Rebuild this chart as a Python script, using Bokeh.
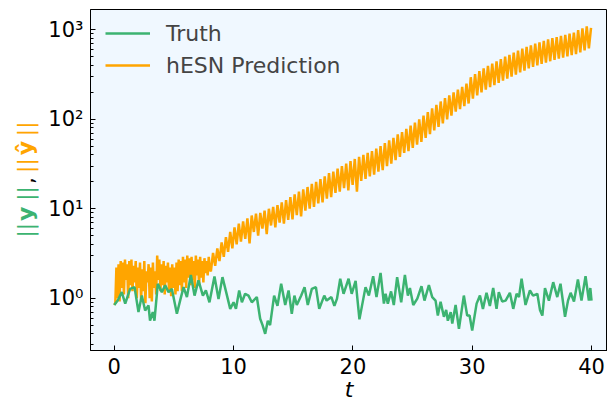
import numpy as np
from bokeh.plotting import figure
from bokeh.layouts import row
from bokeh.models import (Range1d, Label, Legend, LegendItem, FixedTicker,
                          CustomJSTickFormatter)
from bokeh.embed import file_html
from bokeh.resources import INLINE

# ---------------- data ----------------
# Truth: times of turning points and the norm there
t_truth = [0.0, 0.30, 0.63, 0.92, 1.33, 1.7, 2.03, 2.31, 2.59, 2.87, 3.0, 3.23, 3.37,
           3.65, 3.99, 4.27, 4.55, 4.83, 5.25, 5.52, 5.81, 6.09, 6.42, 6.73, 7.06,
           7.43, 7.68, 7.98, 8.40, 8.74, 9.07, 9.38, 9.72, 10.0, 10.2, 10.47, 10.7,
           10.97, 11.25, 11.53, 11.95, 12.23, 12.43, 12.65, 12.87, 13.06, 13.4,
           13.68, 13.99, 14.33, 14.61, 14.88, 15.1, 15.3, 15.67, 15.95, 16.22,
           16.56, 16.9, 17.18, 17.6, 17.8, 18.2, 18.45, 18.67, 18.94, 19.22,
           19.64, 19.9, 20.23, 20.55, 21.06, 21.34, 21.7, 21.98, 22.32, 22.6,
           22.74, 22.93, 23.2, 23.43, 23.71, 24.05, 24.36, 24.61, 24.78, 25.06,
           25.4, 25.75, 26.0, 26.37, 26.65, 26.93, 27.12, 27.35, 27.63, 27.82,
           27.96, 28.2, 28.33, 28.61, 28.89, 29.3, 29.58, 29.78, 30.0, 30.37,
           30.65, 30.9, 31.2, 31.48, 31.76, 32.04, 32.23, 32.51, 32.8, 33.16,
           33.44, 33.72, 33.92, 34.14, 34.47, 34.84, 35.1, 35.46, 35.68, 35.88,
           36.1, 36.43, 36.79, 37.13, 37.4, 37.78, 38.03, 38.25, 38.53, 38.86,
           39.16, 39.5, 39.78, 39.9, 40.0]
y_truth = [0.84, 0.95, 1.17, 0.87, 1.27, 1.33, 0.70, 1.07, 0.73, 0.83, 0.56, 0.70, 0.56,
           1.45, 1.17, 1.39, 1.17, 1.27, 0.67, 0.94, 1.33, 1.03, 1.82, 1.07, 1.58,
           1.07, 1.22, 0.90, 1.75, 0.98, 1.72, 1.17, 0.76, 0.90, 0.76, 1.22, 0.90,
           1.12, 1.07, 0.90, 1.03, 0.59, 0.50, 0.40, 0.56, 0.50, 1.07,
           0.82, 1.45, 0.84, 1.22, 0.67, 1.07, 0.84, 1.07, 1.33, 0.84,
           1.27, 1.33, 0.76, 1.07, 0.94, 1.03, 0.82, 0.99, 1.65, 1.12,
           1.65, 1.12, 1.56, 0.58, 1.33, 1.07, 1.76, 1.03, 1.92, 0.87,
           1.12, 0.87, 1.19, 0.84, 1.72, 0.90, 1.82, 1.07, 1.30, 0.84,
           0.99, 1.36, 0.94, 1.40, 1.03, 0.94, 0.64, 0.91, 0.62, 0.74,
           0.56, 0.70, 0.52, 0.84, 0.455, 1.07, 0.64, 0.64, 0.435, 0.87,
           1.07, 0.76, 1.15, 0.82, 1.30, 0.76, 1.17, 0.92, 0.94, 1.15,
           0.76, 1.12, 1.03, 1.65, 0.84, 1.22, 1.07, 1.12, 0.74, 0.64,
           1.30, 0.94, 1.51, 1.03, 1.45, 0.62, 0.94, 1.15, 0.92, 1.62,
           0.94, 1.76, 0.94, 1.30, 0.94]

# hESN prediction: early chaotic part sampled every 0.09, then every 0.18
EARLY_DT, LATE_T0, LATE_DT = 0.09, 8.1, 0.18
y_pred_early = [0.84, 0.88, 2.2, 1.0, 2.4, 0.92, 2.6, 1.3, 2.5, 1.1,
                2.7, 1.6, 2.4, 1.0, 2.6, 1.4, 2.7, 1.2, 2.3, 1.5,
                2.6, 1.0, 2.2, 1.3, 2.5, 0.95, 2.1, 1.2, 2.6, 0.88,
                2.0, 1.5, 2.4, 1.0, 2.2, 0.92, 2.5, 1.3, 2.0, 1.1,
                3.0, 1.6, 2.7, 1.2, 2.4, 1.4, 2.6, 1.1, 2.3, 1.5,
                2.5, 1.2, 2.2, 1.05, 2.4, 1.3, 2.2, 1.1, 2.5, 1.2,
                2.7, 1.4, 2.6, 1.2, 2.9, 1.5, 2.7, 1.3, 3.0, 1.7,
                2.8, 1.4, 2.9, 1.6, 2.6, 1.3, 3.0, 1.8, 2.7, 1.4,
                2.9, 1.7, 2.6, 1.5, 2.8, 1.9, 2.6, 1.8, 2.9, 2.1]
y_pred_late = [2.0, 3.2, 2.3, 3.6, 2.6, 4.2, 2.9, 4.8, 3.3, 5.5,
               3.6, 6.2, 4.0, 6.8, 4.3, 7.2, 4.6, 7.8, 4.1, 8.4,
               5.5, 8.8, 5.0, 9.0, 6.0, 9.5, 5.2, 10.0, 6.5, 10.5,
               6.2, 11.0, 7.0, 11.8, 6.8, 12.5, 7.5, 13.5, 7.6, 14.5,
               8.5, 15.5, 8.2, 16.5, 9.5, 17.5, 10.0, 19.0, 10.5, 20.0,
               11.5, 21.5, 11.8, 23.0, 13.0, 25.0, 13.5, 26.0, 15.0, 28.0,
               15.5, 30.0, 17.0, 32.0, 16.0, 34.0, 18.5, 36.0, 15.5, 38.0,
               20.5, 40.0, 21.5, 42.0, 23.0, 44.0, 24.0, 47.0, 26.0, 50.0,
               27.0, 54.0, 30.0, 58.0, 32.0, 62.0, 35.0, 68.0, 38.0, 72.0,
               42.0, 78.0, 44.0, 85.0, 48.0, 92.0, 52.0, 100.0, 56.0, 110.0,
               62.0, 120.0, 68.0, 132.0, 75.0, 145.0, 82.0, 158.0, 90.0, 172.0,
               100.0, 185.0, 110.0, 200.0, 122.0, 215.0, 130.0, 230.0, 140.0, 250.0,
               150.0, 295.0, 170.0, 320.0, 185.0, 345.0, 200.0, 370.0, 215.0, 395.0,
               228.0, 420.0, 240.0, 445.0, 255.0, 470.0, 270.0, 500.0, 285.0, 525.0,
               300.0, 555.0, 315.0, 585.0, 335.0, 615.0, 350.0, 645.0, 370.0, 670.0,
               385.0, 700.0, 400.0, 725.0, 415.0, 750.0, 430.0, 780.0, 445.0, 805.0,
               460.0, 830.0, 475.0, 855.0, 490.0, 880.0, 505.0, 905.0, 520.0, 930.0,
               535.0, 990.0, 560.0, 1040.0, 590.0, 1090.0, 620.0, 1050.0]
t_pred = ([i * EARLY_DT for i in range(len(y_pred_early))] +
          [LATE_T0 + i * LATE_DT for i in range(len(y_pred_late))])
y_pred = y_pred_early + y_pred_late

x_ticks = [0, 10, 20, 30, 40]
y_ticks = [1, 10, 100, 1000]

GREEN = "#3cb371"
ORANGE = "#ffa500"
FONT = "DejaVu Sans"
LW = 2.5
STRIP = 44
FRAME_TOP, FRAME_H = 9, 341

# ---------------- main figure ----------------
p = figure(frame_width=517, frame_height=FRAME_H, y_axis_type="log",
           x_range=Range1d(-1.99, 41.34), y_range=Range1d(0.2603, 1686),
           output_backend="svg", toolbar_location=None,
           min_border_left=90 - STRIP, min_border_top=FRAME_TOP, min_border_bottom=40,
           min_border_right=0)
p.background_fill_color = "#f0f8ff"
p.border_fill_color = "white"
p.outline_line_color = "black"
p.outline_line_width = 1
p.xgrid.visible = False
p.ygrid.visible = False

r_pred = p.line(t_pred, y_pred, color=ORANGE, line_width=LW)
r_true = p.line(t_truth, y_truth, color=GREEN, line_width=LW)

minor = [m * 10.0 ** k for k in range(-1, 4) for m in range(2, 10)]
p.yaxis.ticker = FixedTicker(ticks=y_ticks, minor_ticks=minor)
p.xaxis.ticker = FixedTicker(ticks=x_ticks)
p.yaxis.formatter = CustomJSTickFormatter(code="""
const sup = {'-':'\u207b','0':'\u2070','1':'\u00b9','2':'\u00b2','3':'\u00b3',
             '4':'\u2074','5':'\u2075','6':'\u2076','7':'\u2077','8':'\u2078','9':'\u2079'};
const e = Math.round(Math.log10(tick));
return '10' + String(e).split('').map(c => sup[c]).join('');
""")

for ax in (p.xaxis[0], p.yaxis[0]):
    ax.axis_line_color = "black"
    ax.axis_line_width = 1
    ax.major_tick_in = 5
    ax.major_tick_out = 0
    ax.minor_tick_in = 3
    ax.minor_tick_out = 0
    ax.major_tick_line_color = "black"
    ax.minor_tick_line_color = "black"
    ax.major_label_text_font = FONT
    ax.major_label_text_font_size = "21px"
    ax.major_label_text_color = "black"
p.xaxis.minor_tick_line_color = None
p.xaxis.major_label_standoff = 7
p.yaxis.major_label_standoff = 7
p.xaxis.axis_label = "t"
p.xaxis.axis_label_text_font = FONT
p.xaxis.axis_label_text_font_size = "22px"
p.xaxis.axis_label_text_font_style = "italic"
p.xaxis.axis_label_text_color = "black"
p.xaxis.axis_label_standoff = 0

legend = Legend(items=[LegendItem(label="Truth", renderers=[r_true]),
                       LegendItem(label="hESN Prediction", renderers=[r_pred])],
                location=(15, 272), border_line_color=None,
                background_fill_alpha=0, label_text_font=FONT,
                label_text_font_size="22px", glyph_width=45, glyph_height=26,
                label_height=26, spacing=6, padding=0, margin=0,
                label_standoff=16)
p.add_layout(legend)

# ---------------- y-axis label strip (multi-coloured) ----------------
# Its frame is aligned with the main frame by the row layout, so the
# y range is given in page pixels (top-down) over that frame.
lab = figure(width=STRIP, height=402, x_range=Range1d(0, STRIP),
             y_range=Range1d(FRAME_TOP + FRAME_H, FRAME_TOP),
             output_backend="svg", toolbar_location=None, min_border=0,
             x_axis_location=None, y_axis_location=None)
lab.outline_line_color = None
lab.grid.visible = False
lab.background_fill_color = "white"
lab.border_fill_color = "white"

# (text, colour, style, top-down page y of the piece's centre)
pieces = [("||", GREEN, "normal", 231.0), ("y", GREEN, "bold", 214.5),
          ("||", GREEN, "normal", 194.0), (",", "black", "normal", 181.0),
          ("||", ORANGE, "normal", 166.0), ("\u0177", ORANGE, "bold", 148.5),
          ("||", ORANGE, "normal", 129.0)]
for txt, col, style, py in pieces:
    lab.add_layout(Label(x=25, y=py, text=txt, angle=np.pi / 2,
                         text_font=FONT, text_font_size="22px",
                         text_font_style=style, text_color=col,
                         text_align="center", text_baseline="middle"))

layout = row(lab, p, spacing=0)
open("out.html", "w").write(file_html(layout, INLINE))
